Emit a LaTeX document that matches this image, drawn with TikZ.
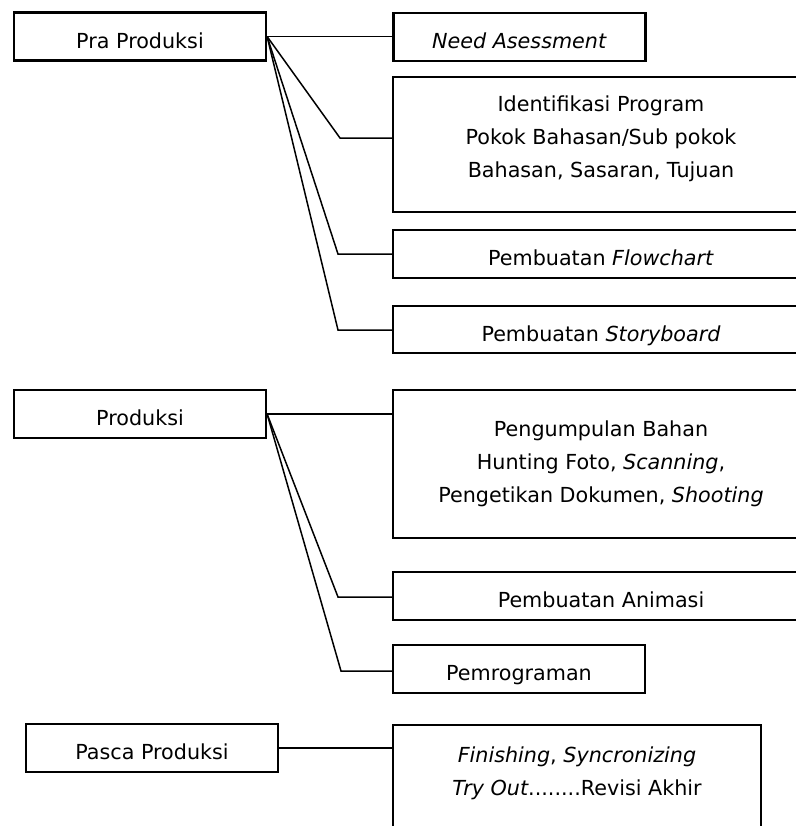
\documentclass[tikz,border=0pt]{standalone}
\usepackage{fontspec}
\setmainfont{DejaVu Sans}
\usepackage{tikz}

\tikzset{
	tahap/.style={draw, line width=1.1pt, minimum width=126pt, minimum height=24pt, inner sep=0pt,
		text height=11.5pt, text depth=0pt, font=\fontsize{10.35pt}{16.5pt}\selectfont},
	kegiatan/.style={tahap, minimum width=208pt},
	teks/.style={align=center, inner sep=0pt, font=\fontsize{10.35pt}{16.5pt}\selectfont},
	garis/.style={line width=0.75pt}
}

\begin{document}
\begin{tikzpicture}[x=0.5pt, y=-0.5pt]
	\useasboundingbox (0,0) rectangle (796,826);
	\clip (0,0) rectangle (796,826);

	% pra produksi
	\node[tahap] (pra) at (140,36.5) {Pra Produksi};
	\node[tahap] (need) at (519.5,37) {\textit{Need Asessment}};
	\node[kegiatan, minimum height=67.5pt] (ident) at (601,144.5) {};
	\node[teks] (identtxt) at (601,138.5) {Identifikasi Program\\Pokok Bahasan/Sub pokok\\Bahasan, Sasaran, Tujuan};
	\node[kegiatan] (flow) at (601,254) {Pembuatan \textit{Flowchart}};
	\node[kegiatan, minimum height=23.5pt] (story) at (601,329.5) {Pembuatan \textit{Storyboard}};

	\coordinate (p1) at (340,138);
	\coordinate (p2) at (338,254);
	\coordinate (p3) at (338,330);
	\draw[garis] (pra.east) -- (pra.east -| need.west);
	\draw[garis] (pra.east) -- (p1) -- (p1 -| ident.west);
	\draw[garis] (pra.east) -- (p2) -- (p2 -| flow.west);
	\draw[garis] (pra.east) -- (p3) -- (p3 -| story.west);

	% produksi
	\node[tahap] (prod) at (140,414) {Produksi};
	\node[kegiatan, minimum height=74pt] (kumpul) at (601,464) {};
	\node[teks] (kumpultxt) at (601,464) {Pengumpulan Bahan\\Hunting Foto, \textit{Scanning},\\Pengetikan Dokumen, \textit{Shooting}};
	\node[kegiatan] (anim) at (601,596) {Pembuatan Animasi};
	\node[tahap] (program) at (519,669) {Pemrograman};

	\coordinate (q1) at (338,597);
	\coordinate (q2) at (341,671);
	\draw[garis] (prod.east) -- (prod.east -| kumpul.west);
	\draw[garis] (prod.east) -- (q1) -- (q1 -| anim.west);
	\draw[garis] (prod.east) -- (q2) -- (q2 -| program.west);

	% pasca produksi
	\node[tahap] (pasca) at (152,748) {Pasca Produksi};
	\node[kegiatan, minimum width=184pt, minimum height=65pt] (finish) at (577,790) {};
	\node[teks] (finishtxt) at (577,773) {\textit{Finishing}, \textit{Syncronizing}\\\textit{Try Out}........Revisi Akhir};
	\draw[garis] (pasca.east) -- (pasca.east -| finish.west);
\end{tikzpicture}
\end{document}
